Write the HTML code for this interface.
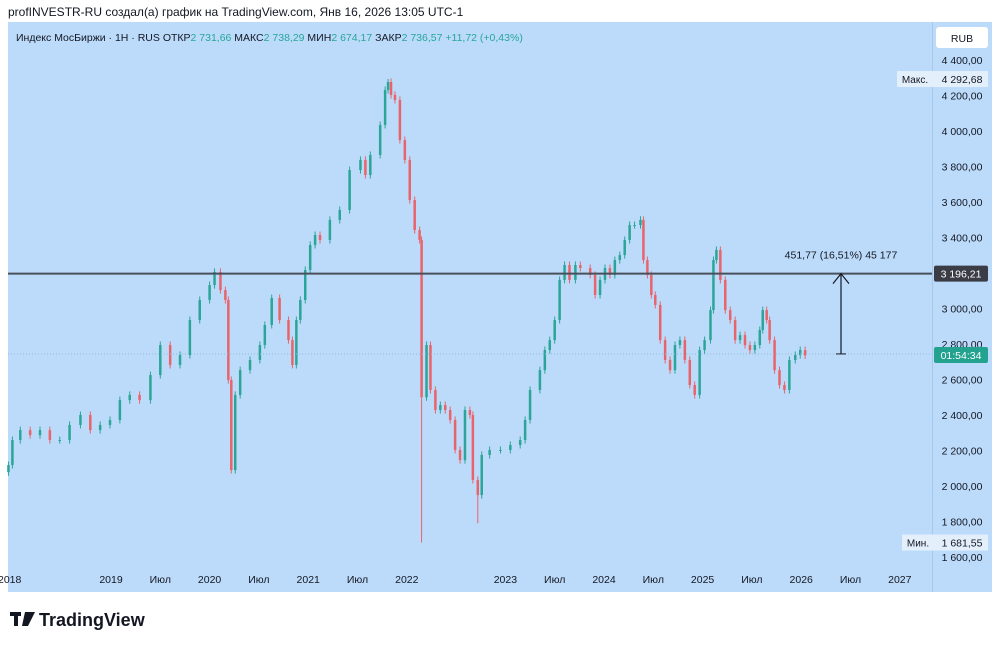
<!DOCTYPE html>
<html><head><meta charset="utf-8">
<style>
body{margin:0;background:#fff;font-family:"Liberation Sans","Noto Sans CJK SC",sans-serif;}
#wrap{position:relative;width:1000px;height:645px;overflow:hidden;background:#fff;}
svg text{font-family:"Liberation Sans","Noto Sans CJK SC",sans-serif;}
</style></head>
<body>
<div id="wrap">
<svg id="chart" width="1000" height="645">
  <rect x="8" y="22" width="984" height="570" fill="#bcdbfa"/>
  <line x1="932.5" y1="22" x2="932.5" y2="592" stroke="#a9c8e8"/>
  <text x="8" y="16" font-size="12" fill="#131722">profINVESTR-RU создал(а) график на TradingView.com, Янв 16, 2026 13:05 UTC-1</text>
  <text x="16" y="41" font-size="10.5" fill="#131722">Индекс МосБиржи · 1H · RUS  <tspan>ОТКР</tspan><tspan fill="#26a69a">2 731,66</tspan>  МАКС<tspan fill="#26a69a">2 738,29</tspan>  МИН<tspan fill="#26a69a">2 674,17</tspan>  ЗАКР<tspan fill="#26a69a">2 736,57</tspan>  <tspan fill="#26a69a">+11,72 (+0,43%)</tspan></text>
  <rect x="936" y="27" width="52" height="21" rx="3" fill="#fff"/>
  <text x="962" y="42" font-size="10.5" text-anchor="middle" fill="#131722">RUB</text>
  <g id="yticks"></g>
  <g id="xticks"></g>
  <g id="candles"></g>
  <g id="overlay"></g>
  <g>
    <rect x="10" y="612" width="11" height="4" fill="#131722"/>
    <rect x="14" y="612" width="4" height="14" fill="#131722"/>
    <polygon points="25,612 35,612 28,626 22,626" fill="#131722"/>
    <text x="39" y="626" font-size="18" font-weight="bold" fill="#131722">TradingView</text>
  </g>
</svg>
</div>
<script>
const times=[2017.96,2018.00,2018.08,2018.18,2018.28,2018.38,2018.48,2018.58,2018.69,2018.79,2018.89,2018.99,2019.09,2019.19,2019.29,2019.40,2019.50,2019.60,2019.70,2019.80,2019.90,2020.00,2020.05,2020.11,2020.16,2020.19,2020.22,2020.26,2020.31,2020.41,2020.51,2020.56,2020.63,2020.71,2020.80,2020.84,2020.88,2020.92,2020.97,2021.02,2021.07,2021.12,2021.22,2021.32,2021.42,2021.53,2021.58,2021.63,2021.73,2021.78,2021.81,2021.84,2021.88,2021.93,2021.98,2022.03,2022.08,2022.13,2022.15,2022.20,2022.24,2022.29,2022.34,2022.39,2022.44,2022.49,2022.54,2022.59,2022.64,2022.67,2022.72,2022.76,2022.84,2022.95,2023.05,2023.15,2023.20,2023.25,2023.35,2023.40,2023.45,2023.50,2023.55,2023.60,2023.65,2023.71,2023.76,2023.86,2023.91,2023.96,2024.01,2024.06,2024.11,2024.16,2024.21,2024.26,2024.31,2024.37,2024.40,2024.44,2024.48,2024.52,2024.57,2024.62,2024.67,2024.72,2024.77,2024.82,2024.87,2024.92,2024.97,2025.02,2025.08,2025.11,2025.14,2025.18,2025.23,2025.28,2025.33,2025.38,2025.43,2025.48,2025.53,2025.58,2025.61,2025.65,2025.68,2025.73,2025.78,2025.83,2025.88,2025.94,2025.99,2026.04];
const closes=[2118,2259,2315,2287,2315,2259,2259,2344,2400,2315,2344,2372,2484,2513,2484,2625,2794,2682,2738,2935,3048,3132,3206,3104,3048,2597,2090,2513,2653,2710,2794,2907,3059,2935,2822,2682,2935,3048,3217,3358,3414,3386,3499,3555,3780,3837,3752,3865,4034,4231,4276,4203,4175,3949,3837,3611,3442,3386,2500,2794,2541,2428,2456,2428,2372,2203,2146,2428,2400,2034,1949,2175,2203,2203,2231,2259,2372,2541,2653,2766,2822,2935,3161,3245,3161,3245,3228,3189,3076,3161,3228,3189,3273,3301,3386,3470,3470,3499,3273,3189,3076,3020,2822,2710,2653,2794,2822,2710,2569,2513,2766,2822,2991,3273,3330,3161,2991,2935,2822,2850,2794,2766,2794,2879,2991,2935,2822,2653,2569,2541,2710,2738,2766,2736];
const spikeTimes=[2020.22,2022.15,2022.72,2021.81,2024.37];
const spikeLows=[2070,1681.55,1790,null,null];
const spikeHighs=[null,null,null,4292.68,3520];
const yTicks=[4400,4200,4000,3800,3600,3400,3000,2800,2600,2400,2200,2000,1800,1600];
const xLabels=["2019","Июл","2020","Июл","2021","Июл","2022","2023","Июл","2024","Июл","2025","Июл","2026","Июл","2027"];
const xLabelTimes=[2019,2019.5,2020,2020.5,2021,2021.5,2022,2023,2023.5,2024,2024.5,2025,2025.5,2026,2026.5,2027];
const levelPrice=3196.21, lastPrice=2744, maxPrice=4292.68, minPrice=1681.55;

const NS="http://www.w3.org/2000/svg";
const Y=v=>60+(4400-v)*497/2800;
const X=t=>111+(t-2019)*98.6;
function mk(tag,attrs,parent,txt){const e=document.createElementNS(NS,tag);for(const k in attrs)e.setAttribute(k,attrs[k]);if(txt!==undefined)e.textContent=txt;parent.appendChild(e);return e;}
const fmt=v=>{const s=v.toFixed(2).replace('.',',');const [i,d]=s.split(',');return (i.length>3?i.slice(0,i.length-3)+' '+i.slice(-3):i)+','+d;};

const yg=document.getElementById('yticks');
yTicks.forEach(v=>{const t=mk('text',{x:962,y:Y(v)+4,'font-size':10.5,'text-anchor':'middle',fill:'#131722'},yg,fmt(v));

});
const xg=document.getElementById('xticks');
mk('text',{x:-2,y:583,'font-size':10.5,fill:'#131722'},xg,'2018');
xLabels.forEach((l,i)=>{const t=mk('text',{x:X(xLabelTimes[i]),y:583,'font-size':10.5,'text-anchor':'middle',fill:'#131722'},xg,l);

});

const cg=document.getElementById('candles');
closes.forEach((c,i)=>{
  const o=i===0?c-40:closes[i-1];
  let hi=Math.max(o,c)+20, lo=Math.min(o,c)-20;
  const si=spikeTimes.indexOf(times[i]);
  if(si>=0){if(spikeLows[si]!==null)lo=spikeLows[si];if(spikeHighs[si]!==null)hi=spikeHighs[si];}
  const col=c>=o?'#2ba597':'#e9646a';
  const x=X(times[i]);
  const g=mk('g',{},cg);
  
  
  mk('line',{x1:x,x2:x,y1:Y(hi),y2:Y(lo),stroke:col,'stroke-width':1},g);
  const top=Y(Math.max(o,c)),bot=Y(Math.min(o,c));
  mk('rect',{x:x-1.25,y:top,width:2.5,height:Math.max(1,bot-top),fill:col},g);
});

const ov=document.getElementById('overlay');
let e;
e=mk('line',{x1:8,x2:932,y1:Y(lastPrice),y2:Y(lastPrice),stroke:'#8fb8d8','stroke-width':1,'stroke-dasharray':'1 2'},ov);


e=mk('line',{x1:8,x2:932,y1:Y(levelPrice),y2:Y(levelPrice),stroke:'#4a4f5c','stroke-width':2},ov);


e=mk('rect',{x:934,y:Y(levelPrice)-8,width:54,height:16,fill:'#3a3d45',rx:2},ov);


mk('text',{x:961,y:Y(levelPrice)+4,'font-size':10.5,'text-anchor':'middle',fill:'#fff'},ov,fmt(levelPrice));
e=mk('rect',{x:934,y:Y(lastPrice)-7,width:54,height:16,fill:'#22a28f',rx:2},ov);


mk('text',{x:961,y:Y(lastPrice)+5,'font-size':10.5,'text-anchor':'middle',fill:'#fff'},ov,'01:54:34');
e=mk('rect',{x:897,y:Y(maxPrice)-8,width:91,height:16,fill:'#e3effb'},ov);


mk('text',{x:915,y:Y(maxPrice)+4,'font-size':10,'text-anchor':'middle',fill:'#131722'},ov,'Макс.');
mk('text',{x:962,y:Y(maxPrice)+4,'font-size':10.5,'text-anchor':'middle',fill:'#131722'},ov,fmt(maxPrice));
e=mk('rect',{x:902,y:Y(minPrice)-8,width:86,height:16,fill:'#e3effb'},ov);


mk('text',{x:918,y:Y(minPrice)+4,'font-size':10,'text-anchor':'middle',fill:'#131722'},ov,'Мин.');
mk('text',{x:962,y:Y(minPrice)+4,'font-size':10.5,'text-anchor':'middle',fill:'#131722'},ov,fmt(minPrice));
const mx=841;
e=mk('g',{},ov);


mk('line',{x1:mx,x2:mx,y1:Y(lastPrice),y2:Y(levelPrice),stroke:'#131722','stroke-width':1.2},e);
mk('polyline',{points:`${mx-8},${Y(levelPrice)+10} ${mx},${Y(levelPrice)} ${mx+8},${Y(levelPrice)+10}`,fill:'none',stroke:'#131722','stroke-width':1.2},e);
mk('line',{x1:mx-5,x2:mx+5,y1:Y(lastPrice),y2:Y(lastPrice),stroke:'#131722','stroke-width':1},e);
mk('text',{x:mx,y:Y(levelPrice)-15,'font-size':10.5,'text-anchor':'middle',fill:'#131722'},e,'451,77 (16,51%) 45 177');
</script>
</body></html>
